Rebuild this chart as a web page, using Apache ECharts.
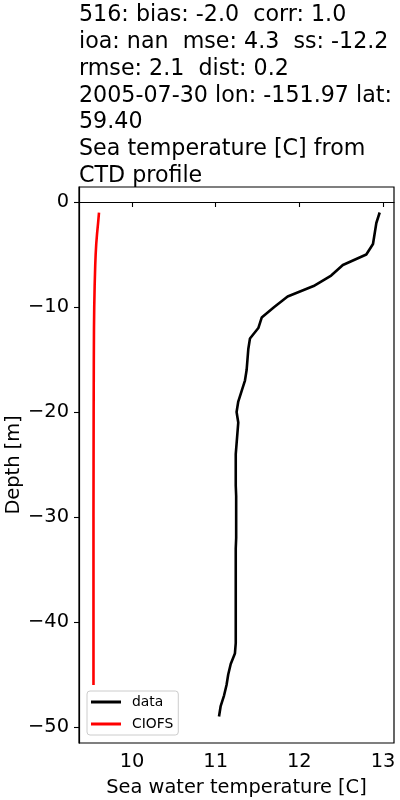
<!DOCTYPE html>
<html><head><meta charset="utf-8">
<script src="https://cdn.jsdelivr.net/npm/echarts@6/dist/echarts.min.js"></script>
<style>html,body{margin:0;padding:0;background:#fff}#c{width:400px;height:800px}</style>
</head><body><div id="c"></div>
<script>
const titleLines = [
  '516: bias: -2.0  corr: 1.0',
  'ioa: nan  mse: 4.3  ss: -12.2',
  'rmse: 2.1  dist: 0.2',
  '2005-07-30 lon: -151.97 lat:',
  '59.40',
  'Sea temperature [C] from',
  'CTD profile'
];
const xTicks = [10, 11, 12, 13];
const yTicks = [0, -10, -20, -30, -40, -50];
const xAxisName = 'Sea water temperature [C]';
const yAxisName = 'Depth [m]';
const seriesNames = ['data', 'CIOFS'];

const dataDepth = [-1,-2,-3,-4,-5,-6,-7,-8,-9,-10,-11,-12,-13,-14,-15,-16,-17,-18,-19,-20,
  -21,-22,-23,-24,-25,-26,-27,-28,-29,-30,-31,-32,-33,-34,-35,-36,-37,-38,-39,-40,
  -41,-42,-43,-44,-45,-46,-47,-48,-49];
const dataTemp = [12.96,12.92,12.90,12.88,12.80,12.52,12.38,12.17,11.86,11.70,11.55,11.51,11.41,11.39,11.38,11.37,11.35,11.31,11.27,11.25,
  11.27,11.26,11.25,11.24,11.24,11.24,11.24,11.245,11.245,11.245,11.245,11.245,11.24,11.24,11.24,11.24,11.24,11.24,11.24,11.24,
  11.24,11.24,11.23,11.18,11.15,11.13,11.10,11.06,11.04];

const modelDepth = [-1,-2,-3,-4,-5,-6,-8,-10,-12,-15,-20,-25,-30,-35,-40,-46];
const modelTemp = [9.606,9.595,9.583,9.573,9.566,9.561,9.554,9.549,9.546,9.544,9.542,9.541,9.540,9.540,9.540,9.540];

const zip = (xs, ys) => xs.map((x, i) => [x, ys[i]]);
const minusFmt = v => (v < 0 ? '\u2212' + (-v) : String(v));

const chart = echarts.init(document.getElementById('c'), null, {renderer: 'canvas'});
chart.setOption({
  animation: false,
  backgroundColor: '#fff',
  textStyle: {fontFamily: 'DejaVu Sans', color: '#000'},
  title: {
    text: titleLines.join('\n'),
    left: 79, top: 2, padding: 0,
    textStyle: {fontFamily: 'DejaVu Sans', fontSize: 22.2, lineHeight: 26.8, fontWeight: 'normal', color: '#000'}
  },
  grid: {left: 79, top: 187, width: 315, height: 556, containLabel: false, outerBoundsMode: 'none',
    show: true, borderColor: '#000', borderWidth: 1.2, backgroundColor: 'transparent'},
  legend: {
    data: seriesNames,
    orient: 'vertical', left: 87, top: 691,
    padding: [4, 5, 4, 4], itemGap: 8,
    itemWidth: 30, itemHeight: 3, icon: 'rect',
    borderColor: '#cccccc', borderWidth: 1, borderRadius: 3,
    backgroundColor: 'rgba(255,255,255,0.8)',
    textStyle: {fontFamily: 'DejaVu Sans', fontSize: 13.9, color: '#000', padding: [0, 0, 0, 6]}
  },
  xAxis: {
    type: 'value', min: 9.367, max: 13.131,
    name: xAxisName, nameLocation: 'middle', nameGap: 35, nameMoveOverlap: false,
    nameTextStyle: {fontFamily: 'DejaVu Sans', fontSize: 19.4, color: '#000'},
    axisLine: {show: true, lineStyle: {color: '#000', width: 1.2}},
    axisTick: {show: true, inside: false, length: 5, customValues: xTicks, lineStyle: {color: '#000', width: 1.1}},
    axisLabel: {show: true, margin: 9, customValues: xTicks, fontSize: 19.4, color: '#000', fontFamily: 'DejaVu Sans', formatter: minusFmt},
    splitLine: {show: false}
  },
  yAxis: {
    type: 'value', min: -51.52, max: 1.43,
    name: yAxisName, nameLocation: 'middle', nameGap: 56, nameRotate: 90, nameMoveOverlap: false,
    nameTextStyle: {fontFamily: 'DejaVu Sans', fontSize: 19.4, color: '#000'},
    axisLine: {show: true, lineStyle: {color: '#000', width: 1.2}},
    axisTick: {show: true, inside: false, length: 5, customValues: yTicks, lineStyle: {color: '#000', width: 1.1}},
    axisLabel: {show: true, margin: 10, customValues: yTicks, fontSize: 19.4, color: '#000', fontFamily: 'DejaVu Sans', formatter: minusFmt},
    splitLine: {show: false}
  },
  series: [
    {name: seriesNames[0], type: 'line', data: zip(dataTemp, dataDepth), showSymbol: false, symbol: 'none',
      color: '#000', lineStyle: {color: '#000', width: 2.6}, itemStyle: {color: '#000'}},
    {name: seriesNames[1], type: 'line', data: zip(modelTemp, modelDepth), showSymbol: false, symbol: 'none',
      color: '#ff0000', lineStyle: {color: '#ff0000', width: 2.6}, itemStyle: {color: '#ff0000'}}
  ]
});
</script></body></html>
